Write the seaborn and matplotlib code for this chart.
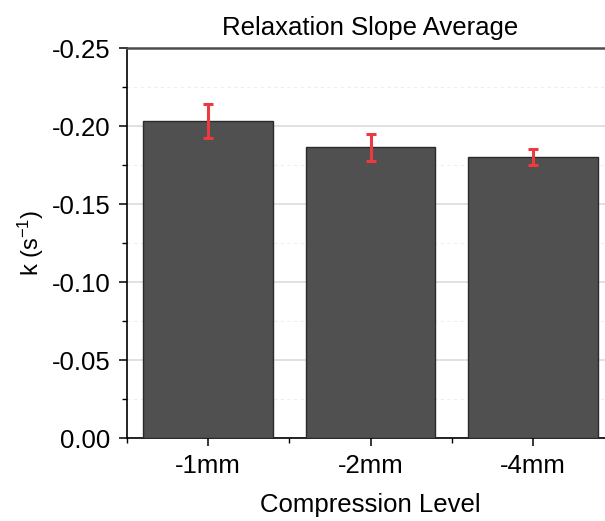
import matplotlib
matplotlib.use("Agg")
import matplotlib.pyplot as plt
from matplotlib.ticker import MultipleLocator, FixedLocator, FormatStrFormatter
import seaborn as sns
import pandas as pd
import numpy as np

levels = ["-1mm", "-2mm", "-4mm"]
slope_mean = [-0.2033, -0.1863, -0.1801]
slope_err = [0.0108, 0.0088, 0.0053]

sns.set_theme(style="white")
plt.rcParams["font.family"] = ["Liberation Sans", "DejaVu Sans"]
plt.rcParams["axes.unicode_minus"] = False
plt.rcParams["mathtext.fontset"] = "custom"
plt.rcParams["mathtext.rm"] = "Liberation Sans"
plt.rcParams["mathtext.it"] = "Liberation Sans:italic"
for key in ["text.color", "axes.labelcolor", "xtick.color", "ytick.color"]:
    plt.rcParams[key] = "black"

df = pd.DataFrame({"level": levels, "k": slope_mean})

fig = plt.figure(figsize=(6.05, 5.21), dpi=100)
ax = fig.add_axes([127 / 605, 83 / 521, 487 / 605, 390 / 521])

sns.barplot(data=df, x="level", y="k", order=levels, color="#505050",
            saturation=1, width=0.8, edgecolor="#2a2a2a", linewidth=1.0,
            errorbar=None, ax=ax, zorder=3)
ax.errorbar(np.arange(len(levels)), slope_mean, yerr=slope_err, fmt="none",
            ecolor="#ec3a40", elinewidth=2.2, capsize=3.8, capthick=2.2, zorder=4)

ax.set_xlim(-0.5, 2.5)
ax.set_ylim(0, -0.25)
ax.yaxis.set_major_locator(MultipleLocator(0.05))
ax.yaxis.set_minor_locator(MultipleLocator(0.025))
ax.yaxis.set_major_formatter(FormatStrFormatter("%.2f"))
ax.xaxis.set_minor_locator(FixedLocator([-0.5, 0.5, 1.5, 2.5]))

ax.grid(which="major", axis="y", color="#dedede", linewidth=1.3, zorder=0)
ax.grid(which="minor", axis="y", color="#eeeeee", linewidth=0.8,
        linestyle=(0, (3, 3)), zorder=0)
ax.set_axisbelow(True)

ax.tick_params(axis="both", which="major", direction="out", length=6,
               width=1.1, color="black", labelsize=18.5, left=True, bottom=True)
ax.tick_params(axis="y", which="major", pad=6)
ax.tick_params(axis="x", which="major", pad=5.5)
ax.tick_params(axis="both", which="minor", direction="out", length=3.5,
               width=1.0, color="black", left=True, bottom=True)

for side in ["left", "bottom"]:
    ax.spines[side].set_color("black")
    ax.spines[side].set_linewidth(1.2)
ax.spines["top"].set_color("#4d4d4d")
ax.spines["top"].set_linewidth(1.8)
ax.spines["right"].set_color("#4d4d4d")

ax.set_title("Relaxation Slope Average", fontsize=18.5, pad=9)
ax.set_xlabel("Compression Level", fontsize=18.5, labelpad=11)
ax.set_ylabel("k (s$^{-1}$)", fontsize=17, labelpad=4)

fig.savefig("out.png", dpi=100)
